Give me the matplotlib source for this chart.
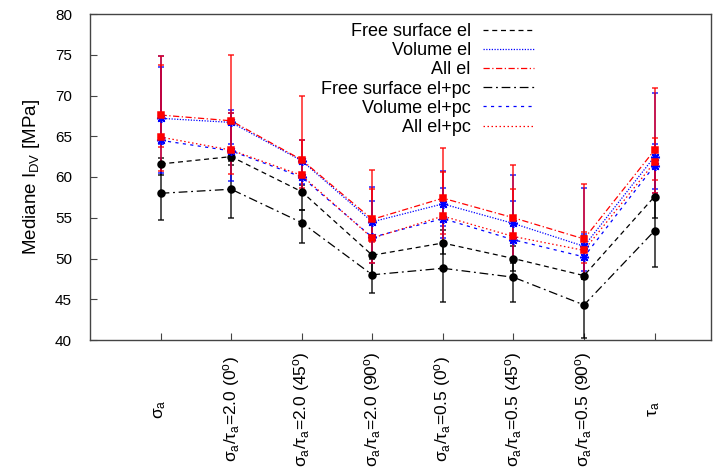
import matplotlib
matplotlib.use('Agg')
import matplotlib.pyplot as plt
from matplotlib.lines import Line2D
import numpy as np

plt.rcParams['font.family'] = ['Liberation Sans', 'DejaVu Sans']
plt.rcParams['mathtext.fontset'] = 'custom'
plt.rcParams['mathtext.rm'] = 'Liberation Sans'
plt.rcParams['mathtext.it'] = 'Liberation Sans'
plt.rcParams['mathtext.bf'] = 'Liberation Sans'

# load cases (x positions 1..8)
cases = [r'$\mathrm{\sigma_a}$',
         r'$\mathrm{\sigma_a/\tau_a}$=2.0 (0$^\mathrm{o}$)',
         r'$\mathrm{\sigma_a/\tau_a}$=2.0 (45$^\mathrm{o}$)',
         r'$\mathrm{\sigma_a/\tau_a}$=2.0 (90$^\mathrm{o}$)',
         r'$\mathrm{\sigma_a/\tau_a}$=0.5 (0$^\mathrm{o}$)',
         r'$\mathrm{\sigma_a/\tau_a}$=0.5 (45$^\mathrm{o}$)',
         r'$\mathrm{\sigma_a/\tau_a}$=0.5 (90$^\mathrm{o}$)',
         r'$\mathrm{\tau_a}$']
x = np.arange(1, 9)

# medians and error bar ends (low, high) in MPa
free_el = [61.6, 62.5, 58.2, 50.4, 51.9, 50.0, 47.9, 57.6]
free_el_lo = [60.3, 61.5, 56.0, 48.2, 50.5, 48.5, 47.5, 55.0]
free_el_hi = [62.3, 63.0, 59.0, 52.5, 53.5, 51.5, 52.8, 62.0]

vol_el = [67.2, 66.7, 62.0, 54.5, 56.7, 54.3, 51.5, 62.5]
vol_el_lo = [64.0, 64.0, 59.2, 52.5, 54.0, 52.0, 48.5, 58.5]
vol_el_hi = [74.8, 68.2, 64.6, 58.8, 60.7, 60.2, 58.6, 70.3]

all_el = [67.6, 66.9, 62.1, 54.8, 57.4, 55.0, 52.4, 63.3]
all_el_lo = [63.7, 63.6, 58.6, 52.0, 53.0, 52.0, 49.5, 59.6]
all_el_hi = [74.9, 75.0, 70.0, 60.9, 63.6, 61.5, 59.1, 70.9]

free_pc = [58.0, 58.5, 54.4, 48.0, 48.8, 47.7, 44.3, 53.4]
free_pc_lo = [54.7, 55.0, 51.9, 45.8, 44.7, 44.7, 40.2, 48.9]
free_pc_hi = [61.7, 62.0, 56.0, 50.0, 52.0, 49.5, 47.5, 57.6]

vol_pc = [64.5, 63.2, 60.0, 52.6, 54.9, 52.3, 50.2, 61.4]
vol_pc_lo = [60.5, 59.5, 58.3, 49.5, 52.5, 50.0, 48.0, 58.0]
vol_pc_hi = [73.5, 67.9, 62.0, 57.0, 58.7, 57.0, 53.0, 64.1]

all_pc = [64.9, 63.3, 60.2, 52.5, 55.2, 52.7, 51.0, 61.8]
all_pc_lo = [60.7, 60.4, 58.0, 49.5, 52.0, 50.0, 48.0, 58.0]
all_pc_hi = [73.8, 67.9, 64.6, 58.5, 60.6, 58.5, 53.3, 64.8]

labels = ['Free surface el', 'Volume el', 'All el',
          'Free surface el+pc', 'Volume el+pc', 'All el+pc']

star = (8, 2, 0)
series = [
    (free_el, free_el_lo, free_el_hi, 'black', (0, (4, 3)), 'o', 5),
    (vol_el, vol_el_lo, vol_el_hi, 'blue', (0, (1, 1.2)), star, 6.5),
    (all_el, all_el_lo, all_el_hi, 'red', (0, (5, 2, 1, 2)), 's', 5),
    (free_pc, free_pc_lo, free_pc_hi, 'black', (0, (7, 3, 1.5, 3)), 'o', 5),
    (vol_pc, vol_pc_lo, vol_pc_hi, 'blue', (0, (2.5, 3.5)), star, 6.5),
    (all_pc, all_pc_lo, all_pc_hi, 'red', (0, (1.2, 2)), 's', 5),
]

fig = plt.figure(figsize=(7.17, 4.75), dpi=100)
ax = fig.add_axes([90 / 717, 1 - 340 / 475, 621 / 717, 326 / 475])

handles = []
for (y, lo, hi, c, ls, mk, ms), lab in zip(series, labels):
    y = np.array(y)
    err = [y - np.array(lo), np.array(hi) - y]
    ax.errorbar(x, y, yerr=err, fmt='none', ecolor=c, elinewidth=1.2,
                capsize=2.5, capthick=1.2, alpha=0.8, zorder=2)
    ax.plot(x, y, color=c, linestyle=ls, linewidth=0.9, zorder=3)
    ax.plot(x, y, linestyle='none', marker=mk, color=c, markersize=ms,
            markeredgewidth=1.1, zorder=4)
    handles.append(Line2D([], [], color=c, linestyle=ls, linewidth=0.9))

ax.set_xlim(0, 8.8)
ax.set_ylim(40, 80)
ax.set_yticks(np.arange(40, 81, 5))
ax.set_xticks(x)
ax.set_xticklabels(cases, rotation=90, va='center', ha='center')
ax.tick_params(axis='x', direction='in', length=5, pad=50, labelsize=12.5,
               color='#444444')
ax.tick_params(axis='y', direction='in', length=5, pad=13, labelsize=11,
               color='#444444')
ax.tick_params(top=False, right=False)
for sp in ax.spines.values():
    sp.set_color('#444444')
    sp.set_linewidth(1)

ax.set_ylabel(r'Mediane I$_\mathrm{DV}$ [MPa]', fontsize=13.5, labelpad=9)

ax.legend(handles, labels, loc='upper right', bbox_to_anchor=(0.715, 0.972),
          frameon=False, markerfirst=False, fontsize=13, handlelength=2.8,
          handletextpad=0.7, labelspacing=0.12, borderpad=0, borderaxespad=0)

fig.savefig('out.png', dpi=100)
